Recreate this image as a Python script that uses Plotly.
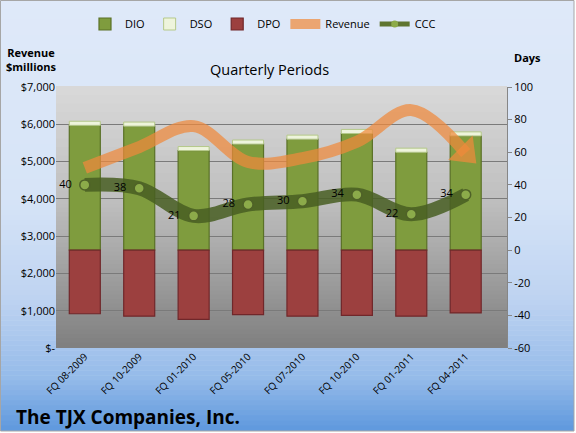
import plotly.graph_objects as go

categories = ["FQ 08-2009", "FQ 10-2009", "FQ 01-2010", "FQ 05-2010",
              "FQ 07-2010", "FQ 10-2010", "FQ 01-2011", "FQ 04-2011"]
dio = [76.5, 76, 61, 65, 68, 71.5, 60, 70]
dso = [2.5, 2.5, 2.5, 2.5, 2.5, 2.5, 2.5, 2.5]
dpo = [-39, -40.5, -42.5, -39.5, -40.5, -40, -40.5, -38.5]
ccc = [40, 38, 21, 28, 30, 34, 22, 34]
revenue = [4830, 5390, 5950, 4990, 5090, 5530, 6380, 5230]
rev_ticks = [0, 1000, 2000, 3000, 4000, 5000, 6000, 7000]
rev_ticktext = ["$-", "$1,000", "$2,000", "$3,000", "$4,000", "$5,000", "$6,000", "$7,000"]
day_ticks = [-60, -40, -20, 0, 20, 40, 60, 80, 100]
day_ticktext = ["-60", "-40", "-20", "0", "20", "40", "60", "80", "100"]

FONT = "Open Sans"

def lerp(c1, c2, t):
    return tuple(int(round(a + (b - a) * t)) for a, b in zip(c1, c2))

def grad(stops, y):
    for (y0, c0), (y1, c1) in zip(stops, stops[1:]):
        if y0 <= y <= y1:
            return lerp(c0, c1, (y - y0) / (y1 - y0) if y1 > y0 else 0)
    return stops[-1][1]

W, H = 576, 433
ML, MR, MT, MB = 56, 69, 87, 85
pw, ph = W - ML - MR, H - MT - MB

shapes = []
outer = [(0, (223, 233, 249)), (200, (214, 228, 247)), (300, (190, 211, 241)),
         (380, (148, 186, 233)), (431, (94, 152, 221))]
N = 86
for i in range(N):
    y0 = 431 * i / N
    y1 = 431 * (i + 1) / N
    c = grad(outer, (y0 + y1) / 2)
    shapes.append(dict(type="rect", xref="paper", yref="paper",
                       x0=(0 - ML) / pw, x1=(574 - ML) / pw,
                       y0=(H - MB - y1) / ph, y1=(H - MB - y0 + 0.6) / ph,
                       fillcolor="rgb(%d,%d,%d)" % c, line=dict(width=0), layer="below"))
inner = [(0, (217, 217, 217)), (0.45, (190, 190, 190)), (0.8, (150, 150, 150)), (1, (127, 127, 127))]
M = 60
for i in range(M):
    t0, t1 = i / M, (i + 1) / M
    c = grad(inner, (t0 + t1) / 2)
    shapes.append(dict(type="rect", xref="paper", yref="paper", x0=0, x1=1,
                       y0=1 - t1, y1=1 - t0 + 0.004,
                       fillcolor="rgb(%d,%d,%d)" % c, line=dict(width=0), layer="below"))
shapes.append(dict(type="rect", xref="paper", yref="paper",
                   x0=(0.5 - ML) / pw, x1=(574 - ML) / pw,
                   y0=(H - MB - 431) / ph, y1=(H - MB - 0.5) / ph,
                   line=dict(color="#a6a6a6", width=1), fillcolor="rgba(0,0,0,0)", layer="above"))

fig = go.Figure()
# days on "y" (right side), revenue on "y2" (left side, drawn on top)
fig.add_trace(go.Bar(name="DIO", x=categories, y=dio, yaxis="y",
                     marker=dict(color="#7f9c3e", line=dict(color="#5a7127", width=1.2)),
                     width=0.57))
fig.add_trace(go.Bar(name="DSO", x=categories, y=dso, yaxis="y",
                     marker=dict(color="#eef4dc", line=dict(color="#b5c98a", width=1)),
                     width=0.57))
fig.add_trace(go.Bar(name="DPO", x=categories, y=dpo, yaxis="y",
                     marker=dict(color="#9c403f", line=dict(color="#70272a", width=1.2)),
                     width=0.57))
fig.add_trace(go.Scatter(name="CCC", x=categories, y=ccc, yaxis="y",
                         mode="lines", line=dict(color="rgba(72,94,34,0.85)", width=14,
                                                 shape="spline", smoothing=1),
                         showlegend=False, hoverinfo="skip"))
fig.add_trace(go.Scatter(name="CCC", x=categories, y=ccc, yaxis="y",
                         mode="markers+text", text=[str(v) + "\u00a0\u00a0" for v in ccc],
                         textposition="middle left",
                         textfont=dict(family=FONT, size=11, color="black"),
                         marker=dict(color="#8cab4a", size=10, line=dict(color="#4f6228", width=1.5)),
                         showlegend=False))
fig.add_trace(go.Scatter(name="Revenue", x=categories, y=revenue, yaxis="y2",
                         mode="lines",
                         line=dict(color="#f08a3c", width=12, shape="spline", smoothing=1),
                         opacity=0.72))
fig.add_trace(go.Scatter(name="Revenue", x=categories[-1:], y=revenue[-1:], yaxis="y2",
                         mode="markers", showlegend=False, hoverinfo="skip",
                         marker=dict(symbol="triangle-up", size=30, angle=135,
                                     color="#f08a3c", opacity=0.72, line=dict(width=0))))
fig.add_trace(go.Scatter(name="CCC", x=[None], y=[None], yaxis="y", mode="lines+markers",
                         line=dict(color="#5f7530", width=5),
                         marker=dict(color="#8cab4a", size=7), showlegend=True))

fig.update_layout(
    width=W, height=H,
    margin=dict(l=ML, r=MR, t=MT, b=MB, autoexpand=False),
    paper_bgcolor="#ffffff", plot_bgcolor="rgba(0,0,0,0)",
    barmode="relative", bargap=0.43,
    font=dict(family=FONT, size=11, color="black"),
    shapes=shapes,
    showlegend=True,
    legend=dict(orientation="h", x=(263 - ML) / pw, xanchor="center", y=(H - MB - 24) / ph,
                yanchor="middle", font=dict(size=11), bgcolor="rgba(0,0,0,0)",
                traceorder="normal", itemwidth=30),
    xaxis=dict(type="category", tickangle=-45, tickfont=dict(size=10), showgrid=False,
               showline=False, ticks="", zeroline=False),
    yaxis=dict(range=[-60, 100], tickvals=day_ticks, ticktext=day_ticktext, side="right",
               showgrid=False, zeroline=False, showline=True, linecolor="#868686",
               ticks="outside", ticklen=4, tickcolor="#868686", tickfont=dict(size=11)),
    yaxis2=dict(range=[0, 7000], tickvals=rev_ticks, ticktext=rev_ticktext,
                overlaying="y", side="left",
                showgrid=True, gridcolor="#7a7a7a", gridwidth=1, zeroline=False,
                showline=False, ticks="", tickfont=dict(size=11)),
    annotations=[
        dict(text="<b>Revenue<br>$millions</b>", xref="paper", yref="paper",
             x=(31 - ML) / pw, y=(H - MB - 59) / ph, xanchor="center", yanchor="middle",
             showarrow=False, font=dict(size=11), align="center"),
        dict(text="<b>Days</b>", xref="paper", yref="paper",
             x=(527 - ML) / pw, y=(H - MB - 58) / ph, xanchor="center", yanchor="middle",
             showarrow=False, font=dict(size=11)),
        dict(text="Quarterly Periods", xref="paper", yref="paper",
             x=(269 - ML) / pw, y=(H - MB - 70) / ph, xanchor="center", yanchor="middle",
             showarrow=False, font=dict(size=14.5)),
        dict(text="<b>The TJX Companies, Inc.</b>", xref="paper", yref="paper",
             x=(14 - ML) / pw, y=(H - MB - 417) / ph, xanchor="left", yanchor="middle",
             showarrow=False, font=dict(size=19)),
    ],
)

fig.write_html("out.html")
